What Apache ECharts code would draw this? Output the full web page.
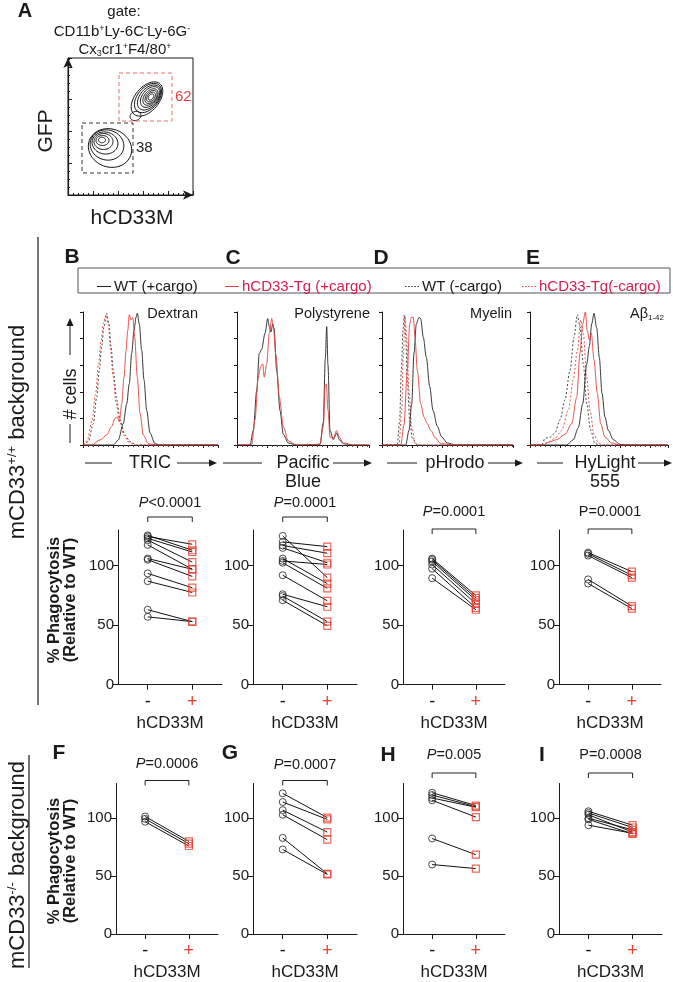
<!DOCTYPE html>
<html><head><meta charset="utf-8">
<script src="https://cdn.jsdelivr.net/npm/echarts@6/dist/echarts.min.js"></script>
<style>html,body{margin:0;padding:0;background:#fff}#c{width:673px;height:982px}</style>
</head><body><div id="c"></div><script>
// ---------------- DATA ----------------
const pairCats = ['', '', '-', '', '', '+', '', ''];
const yTickValues = [0, 50, 100];
const B_minus = [125.5, 124.5, 123, 121.5, 117.5, 106, 105, 93.5, 87, 63, 57];
const B_plus  = [113, 118, 111.5, 103, 97, 97, 91, 81.5, 77.5, 53, 53];
const C_minus = [125, 120, 117, 115, 106, 104, 102.5, 92, 76, 74.5, 71];
const C_plus  = [90, 116, 110.5, 102.5, 85, 101, 81, 70.5, 65.5, 53, 49.5];
const D_minus = [106, 105, 103.5, 101, 97.5, 89.5];
const D_plus  = [75, 73, 71, 68, 64.5, 63];
const E_minus = [111, 110, 108.5, 88.5, 85];
const E_plus  = [95, 92, 90, 66, 64];
const F_minus = [101.5, 99.5, 97];
const F_plus  = [80, 78, 76];
const G_minus = [121.5, 114, 107, 103, 83, 73];
const G_plus  = [100.5, 99, 88, 81.5, 52, 51.5];
const H_minus = [122, 120, 117.5, 115.5, 82.5, 60];
const H_plus  = [111, 110, 109.5, 101, 68.5, 56.5];
const I_minus = [106, 104.5, 103, 100, 99, 94];
const I_plus  = [94, 92, 88, 90, 86.5, 87];
const pTexts  = ['<0.0001', '=0.0001', '=0.0001', '=0.0001', '=0.0006', '=0.0007', '=0.005', '=0.0008'];
const pItalic = [true, true, true, false, true, true, true, false];

const histNames = ['WT (+cargo)', 'hCD33-Tg (+cargo)', 'WT (-cargo)', 'hCD33-Tg(-cargo)'];
const hB_wtPlus  = [[0,0],[30.3,0],[35.3,3.8],[40.3,16],[43.7,31],[46.3,46],[48.7,69],[51,86],[53,96],[54.3,99],[56.3,91],[58.7,71],[61,49],[63.7,26],[67,9],[72,1],[77,0],[135,0]];
const hB_tgPlus  = [[0,0],[8.7,0],[17,3.8],[23.7,7.5],[28.7,14],[32,20],[34.3,21],[36.3,17.5],[38.7,31],[41,51],[43,71],[44.7,86],[46.3,98],[48,94],[49.7,96],[51.7,81],[54.3,51],[57,24],[60.3,7.5],[65.3,1],[73.7,0],[135,0]];
const hB_wtMinus = [[0,0],[5.3,2.5],[10.3,16],[13.7,36],[16.3,56],[18.7,74],[21,89],[23.7,99],[26,91],[28,74],[30.3,56],[33.7,34],[37,19],[42,7.5],[47,2.5],[53.7,0],[135,0]];
const hB_tgMinus = [[0,0],[4,3],[9,18],[12.5,38],[15.5,60],[18,78],[20.5,92],[23,98],[25.5,90],[27.5,72],[30,52],[33,32],[36.5,18],[41,7],[46,2],[52,0],[135,0]];
const hC_wtPlus  = [[0,0],[13,0],[16.3,11],[19.7,41],[22.3,69],[24.7,72],[28,84],[30.7,95],[32.3,89],[34,85],[35.7,91],[37,88],[39.7,56],[43,26],[46.3,8],[51.3,1.5],[59.7,0],[83,0.5],[86.3,17],[88.3,65],[89.7,89],[91,60],[93,11],[96.3,4],[99.7,9],[102.3,4],[106.3,1],[116.3,0],[132,0]];
const hC_tgPlus  = [[0,0],[14.7,0.5],[18,19],[21.3,51],[23.7,59],[25.7,61],[27.3,51],[29.7,61],[32.3,84],[34.7,95],[36.3,89],[39,67],[42.3,36],[46.3,14],[51.3,3],[59.7,0],[83,0.5],[86.3,14],[88.3,45],[89.3,46],[91,26],[93,6],[96.3,5],[99.7,11],[102.3,6],[106.3,1.5],[116.3,0],[132,0]];
const hD_wtPlus  = [[0,0],[23.7,0],[27,11],[29.7,31],[32,69],[34.3,91],[37,96],[38.7,95],[41.3,81],[44.3,66],[47.7,44],[51,26],[55.3,14],[59.7,6],[65.3,1.5],[73.7,0],[131,0]];
const hD_tgPlus  = [[0,0],[18.7,0],[22,15],[25.3,56],[27.7,91],[29.3,96],[31.3,96],[33,81],[35.3,56],[38.7,31],[42,21],[45.3,16],[48.7,11],[53.7,5],[58.7,1],[73.7,0],[131,0]];
const hD_wtMinus = [[0,0],[15.3,0],[17.7,19],[19.3,56],[21,86],[22.3,98],[23.7,81],[25.3,49],[27.7,19],[30.3,5],[35.3,0],[131,0]];
const hD_tgMinus = [[0,0],[17,0],[19.7,26],[21.3,66],[23,97],[24.7,81],[27,41],[29.7,14],[33,1.5],[37,0],[131,0]];
const hE_wtPlus  = [[0,0],[36.7,0],[43.3,4],[48.3,13],[52.7,31],[56.7,61],[59.3,74],[61.7,91],[64,99],[66.7,88],[69.3,66],[72,39],[75,21],[78.3,11],[83.3,4],[90,0.5],[96.7,0],[138,0]];
const hE_tgPlus  = [[0,0],[13.3,0],[18.3,2],[26.7,4],[35,8],[41.7,16],[46.7,36],[50,69],[52.7,91],[55.3,100],[57.3,86],[59.3,79],[61.3,84],[64,64],[67.3,39],[70.7,16],[75,6],[81.7,1.5],[90,0],[138,0]];
const hE_wtMinus = [[0,0],[11.7,0],[15,5],[20,6],[25,9],[30,19],[35,34],[40,56],[44,81],[47.3,98],[50,89],[53.3,61],[56.7,31],[60.7,11],[65,1],[70,0],[138,0]];
const hE_tgMinus = [[0,0],[13.3,0],[18.3,2.5],[25,5],[31.7,11],[38.3,26],[43.3,49],[47.3,71],[50.7,94],[53.3,84],[56.7,51],[60,26],[64,8],[68.3,1.5],[73.3,0],[138,0]];

// contour levels for panel A: [cx, cy, semiMajor, semiMinor, angleDeg]
const contourTop = [[79,96,20,12,50],[80,97,17,10.5,50],[81,97.5,14.5,9,50],[82,98,12,7.5,50],[82.5,98,9.5,6,50],[83,98,7.5,4.8,50],[83,98,5.5,3.5,50],[83,98,3.5,2.2,50],[67.5,79,5.5,4.5,20]];
const contourBottom = [[42,47,22,19,-20],[39,50,17,15,-15],[37,52,13,11,-10],[35.5,53.5,9.5,8,0],[34.5,54.5,6.5,5,0],[34,55,3.5,2.8,0]];
const gateRed = [51, 74, 104, 122];
const gateBlack = [14, 22, 65, 72];
const gateLabels = ['62', '38'];

// ---------------- STYLE / LAYOUT ----------------
const FONT = '"Liberation Sans", Arial, Helvetica, sans-serif';
const BLACK = '#1a1a1a', RED = '#e8413c', LEGRED = '#d81e4e', SQ = '#e8402f';
const ICON_SOLID = 'path://M0,0L14,0L14,1L0,1Z';
const ICON_DOT = 'path://M0,0L1.5,0L1.5,1L0,1ZM3,0L4.5,0L4.5,1L3,1ZM6,0L7.5,0L7.5,1L6,1ZM9,0L10.5,0L10.5,1L9,1ZM12,0L13.5,0L13.5,1L12,1Z';

const grids = [], xAxes = [], yAxes = [], series = [], gfx = [];

function T(x, y, text, size, extra) {
  const st = Object.assign({text: text, fontFamily: FONT, fontSize: size, fill: BLACK, align: 'center', verticalAlign: 'middle'}, (extra && extra.style) || {});
  return Object.assign({type: 'text', x: x, y: y, silent: true, style: st}, (extra && extra.el) || {});
}
function L(x1, y1, x2, y2, w, color, dash) {
  return {type: 'line', silent: true, shape: {x1, y1, x2, y2}, style: {stroke: color || BLACK, lineWidth: w || 1, lineDash: dash || null}};
}
function arrowR(x, y) { return {type: 'polygon', silent: true, shape: {points: [[x - 8, y - 3.5], [x, y], [x - 8, y + 3.5]]}, style: {fill: BLACK}}; }
function arrowU(x, y) { return {type: 'polygon', silent: true, shape: {points: [[x - 3.5, y + 8], [x, y], [x + 3.5, y + 8]]}, style: {fill: BLACK}}; }

// ---------- Panel A ----------
grids.push({left: 68, top: 58, width: 125, height: 137, show: true, borderColor: BLACK, borderWidth: 1, backgroundColor: 'transparent'});
xAxes.push({gridIndex: 0, type: 'value', min: 0, max: 125, offset: 9, position: 'bottom',
  axisLine: {show: true, symbol: ['none', 'arrow'], symbolSize: [7, 10], lineStyle: {color: BLACK, width: 1.2}},
  axisTick: {show: false}, axisLabel: {show: false}, splitLine: {show: false}});
xAxes.push({gridIndex: 0, type: 'value', min: 0, max: 125, interval: 25, position: 'bottom',
  axisLine: {show: false}, axisTick: {show: true, inside: true, length: 4, lineStyle: {color: BLACK}},
  minorTick: {show: true, splitNumber: 5, length: 2, lineStyle: {color: BLACK}},
  axisLabel: {show: false}, splitLine: {show: false}});
yAxes.push({gridIndex: 0, type: 'value', min: 0, max: 137, offset: 7, position: 'left',
  axisLine: {show: true, symbol: ['none', 'arrow'], symbolSize: [7, 10], lineStyle: {color: BLACK, width: 1.2}},
  axisTick: {show: false}, axisLabel: {show: false}, splitLine: {show: false}});
yAxes.push({gridIndex: 0, type: 'value', min: 0, max: 137, interval: 32, position: 'left',
  axisLine: {show: false}, axisTick: {show: true, inside: true, length: 4, lineStyle: {color: BLACK}},
  minorTick: {show: true, splitNumber: 4, length: 2, lineStyle: {color: BLACK}},
  axisLabel: {show: false}, splitLine: {show: false}});
series.push({type: 'custom', xAxisIndex: 0, yAxisIndex: 0, silent: true, animation: false, clip: false,
  data: contourTop.concat(contourBottom),
  renderItem: function (params, api) {
    const cx = api.value(0), cy = api.value(1), a = api.value(2), b = api.value(3), ang = api.value(4) * Math.PI / 180;
    const pts = [];
    for (let k = 0; k < 48; k++) {
      const t = k / 48 * Math.PI * 2;
      const ex = a * Math.cos(t), ey = b * Math.sin(t);
      pts.push(api.coord([cx + ex * Math.cos(ang) - ey * Math.sin(ang), cy + ex * Math.sin(ang) + ey * Math.cos(ang)]));
    }
    return {type: 'polygon', shape: {points: pts}, style: {fill: null, stroke: '#111', lineWidth: 1}};
  }});
series.push({type: 'custom', xAxisIndex: 0, yAxisIndex: 0, silent: true, animation: false, clip: false,
  data: [gateRed.concat([0]), gateBlack.concat([1])],
  renderItem: function (params, api) {
    const p0 = api.coord([api.value(0), api.value(3)]), p1 = api.coord([api.value(2), api.value(1)]);
    const isRed = api.value(4) === 0;
    return {type: 'group', children: [
      {type: 'rect', shape: {x: p0[0], y: p0[1], width: p1[0] - p0[0], height: p1[1] - p0[1]},
        style: {fill: null, stroke: isRed ? '#f06a6a' : '#333', lineWidth: 1, lineDash: [4, 3]}},
      {type: 'text', x: p1[0] + 3, y: (p0[1] + p1[1]) / 2,
        style: {text: gateLabels[params.dataIndex], fontFamily: FONT, fontSize: 15, fill: isRed ? RED : '#222', align: 'left', verticalAlign: 'middle'}}
    ]};
  }});

gfx.push(T(25, 11, 'A', 20, {style: {fontWeight: 'bold'}}));
gfx.push(T(124, 12, 'gate:', 15));
gfx.push(T(122, 32, 'CD11b{s|+}Ly-6C{s|-}Ly-6G{s|-}', 15, {style: {rich: {s: {fontSize: 9, verticalAlign: 'top', fontFamily: FONT, fill: BLACK, lineHeight: 16}}}}));
gfx.push(T(125, 50, 'Cx{d|3}cr1{s|+}F4/80{s|+}', 15, {style: {rich: {s: {fontSize: 9, verticalAlign: 'top', fontFamily: FONT, fill: BLACK, lineHeight: 16}, d: {fontSize: 9, verticalAlign: 'bottom', fontFamily: FONT, fill: BLACK, lineHeight: 14}}}}));
gfx.push(T(46, 131, 'GFP', 21, {el: {rotation: Math.PI / 2}}));
gfx.push(T(132, 218, 'hCD33M', 21));

// ---------- Histograms ----------
const histLayout = [
  {left: 83, width: 135, curves: [hB_wtPlus, hB_tgPlus, hB_wtMinus, hB_tgMinus], title: 'Dextran', tx: 198},
  {left: 237, width: 132, curves: [hC_wtPlus, hC_tgPlus, null, null], title: 'Polystyrene', tx: 370},
  {left: 382, width: 131, curves: [hD_wtPlus, hD_tgPlus, hD_wtMinus, hD_tgMinus], title: 'Myelin', tx: 512},
  {left: 530, width: 138, curves: [hE_wtPlus, hE_tgPlus, hE_wtMinus, hE_tgMinus], title: 'Aβ{d|1-42}', tx: 664}
];
const curveStyles = [
  {color: '#222', type: 'solid'}, {color: RED, type: 'solid'},
  {color: '#333', type: [2, 2]}, {color: RED, type: [2, 2]}
];
histLayout.forEach(function (h) {
  const gi = grids.length;
  grids.push({left: h.left, top: 312, width: h.width, height: 133});
  const xi = xAxes.length, yi = yAxes.length;
  xAxes.push({gridIndex: gi, type: 'value', min: 0, max: h.width, interval: 30,
    axisLine: {show: true, lineStyle: {color: BLACK, width: 1}},
    axisTick: {show: true, length: 3, lineStyle: {color: BLACK}},
    minorTick: {show: true, splitNumber: 6, length: 2, lineStyle: {color: '#444'}},
    axisLabel: {show: false}, splitLine: {show: false}});
  yAxes.push({gridIndex: gi, type: 'value', min: 0, max: 100, interval: 20,
    axisLine: {show: true, lineStyle: {color: BLACK, width: 1}},
    axisTick: {show: true, length: 3, lineStyle: {color: BLACK}},
    axisLabel: {show: false}, splitLine: {show: false}});
  h.curves.forEach(function (c, k) {
    if (!c) return;
    series.push({type: 'line', name: histNames[k], xAxisIndex: xi, yAxisIndex: yi, data: c,
      smooth: 0.3, smoothMonotone: 'x', symbol: 'none', silent: true, animation: false, z: k < 2 ? 3 : 2,
      itemStyle: {color: curveStyles[k].color},
      lineStyle: {color: curveStyles[k].color, width: 0.9, type: curveStyles[k].type}});
  });
  gfx.push(T(h.tx, 314, h.title, 14.5, {style: {align: 'right', rich: {d: {fontSize: 8, verticalAlign: 'bottom', fontFamily: FONT, fill: BLACK, lineHeight: 15}}}}));
});

// legend box
gfx.push({type: 'rect', silent: true, shape: {x: 78, y: 268, width: 592, height: 25}, style: {fill: null, stroke: '#555', lineWidth: 1}});
gfx.push(T(72, 257, 'B', 21, {style: {fontWeight: 'bold'}}));
gfx.push(T(233, 258, 'C', 21, {style: {fontWeight: 'bold'}}));
gfx.push(T(381, 258, 'D', 21, {style: {fontWeight: 'bold'}}));
gfx.push(T(533, 258, 'E', 21, {style: {fontWeight: 'bold'}}));

// # cells
gfx.push(T(71, 394, '# cells', 18, {el: {rotation: Math.PI / 2}}));
gfx.push(L(70, 355, 70, 322, 1));
gfx.push(arrowU(70, 318));
gfx.push(L(70, 424, 70, 443, 1));

// histogram x-axis names
const histAxisRows = [
  {l1: 85, l2: 112, text: 'TRIC', cx: 150, a1: 177, a2: 217, sub: null},
  {l1: 223, l2: 262, text: 'Pacific', cx: 303, a1: 333, a2: 372, sub: 'Blue'},
  {l1: 387, l2: 417, text: 'pHrodo', cx: 455, a1: 488, a2: 523, sub: null},
  {l1: 537, l2: 563, text: 'HyLight', cx: 605, a1: 638, a2: 672, sub: '555'}
];
histAxisRows.forEach(function (r) {
  gfx.push(L(r.l1, 463, r.l2, 463, 1));
  gfx.push(T(r.cx, 463, r.text, 18));
  gfx.push(L(r.a1, 463, r.a2 - 6, 463, 1));
  gfx.push(arrowR(r.a2, 463));
  if (r.sub) gfx.push(T(r.cx, 482, r.sub, 18));
});

// ---------- Paired plots ----------
const pairedLayout = [
  {minus: B_minus, plus: B_plus, left: 118, top: 530, width: 104, bOff: 13, tOff: 14},
  {minus: C_minus, plus: C_plus, left: 253, top: 530, width: 104, bOff: 13, tOff: 14},
  {minus: D_minus, plus: D_plus, left: 403, top: 530, width: 102, bOff: 1, tOff: 17},
  {minus: E_minus, plus: E_plus, left: 559, top: 530, width: 102, bOff: 1, tOff: 17},
  {minus: F_minus, plus: F_plus, left: 116, top: 783.5, width: 102, bOff: 3, tOff: 17},
  {minus: G_minus, plus: G_plus, left: 253, top: 783.5, width: 104, bOff: 3, tOff: 16},
  {minus: H_minus, plus: H_plus, left: 403, top: 783.5, width: 102, bOff: 10.5, tOff: 18},
  {minus: I_minus, plus: I_plus, left: 559, top: 783.5, width: 103, bOff: 10.5, tOff: 18}
];
pairedLayout.forEach(function (p, idx) {
  const gi = grids.length;
  grids.push({left: p.left, top: p.top, width: p.width, height: 154.7});
  const xi = xAxes.length, yi = yAxes.length;
  const showIdx = function (i) { return i === 2 || i === 5; };
  xAxes.push({gridIndex: gi, type: 'category', data: pairCats, boundaryGap: false,
    axisLine: {show: true, lineStyle: {color: BLACK, width: 1}},
    axisTick: {show: true, length: 5, interval: showIdx, lineStyle: {color: BLACK}},
    axisLabel: {show: true, interval: showIdx, margin: 8, fontSize: 18, fontFamily: FONT,
      color: function (v) { return v === '+' ? SQ : BLACK; }},
    name: 'hCD33M', nameLocation: 'middle', nameGap: 30,
    nameTextStyle: {fontSize: 17, fontFamily: FONT, color: BLACK},
    splitLine: {show: false}});
  yAxes.push({gridIndex: gi, type: 'value', min: 0, max: 130, interval: 50,
    axisLine: {show: true, lineStyle: {color: BLACK, width: 1}},
    axisTick: {show: true, length: 5, customValues: yTickValues, lineStyle: {color: BLACK}},
    axisLabel: {fontSize: 15, fontFamily: FONT, color: BLACK, margin: 4, customValues: yTickValues},
    splitLine: {show: false}});
  p.minus.forEach(function (v, i) {
    series.push({type: 'line', xAxisIndex: xi, yAxisIndex: yi, data: [[2, v], [5, p.plus[i]]],
      symbol: 'none', silent: true, animation: false, z: 2,
      lineStyle: {color: '#111', width: 1}});
  });
  series.push({type: 'scatter', xAxisIndex: xi, yAxisIndex: yi, data: p.minus.map(function (v) { return [2, v]; }),
    symbol: 'circle', symbolSize: 7, silent: true, animation: false, z: 3,
    itemStyle: {color: 'rgba(255,255,255,0)', borderColor: '#222', borderWidth: 1}});
  series.push({type: 'scatter', xAxisIndex: xi, yAxisIndex: yi, data: p.plus.map(function (v) { return [5, v]; }),
    symbol: 'rect', symbolSize: 7, silent: true, animation: false, z: 3,
    itemStyle: {color: 'rgba(255,255,255,0)', borderColor: SQ, borderWidth: 1.2}});
  const label = (pItalic[idx] ? '{i|P}' : 'P') + pTexts[idx];
  series.push({type: 'custom', xAxisIndex: xi, yAxisIndex: yi, data: [[2, 5]], silent: true, animation: false, clip: false,
    renderItem: function (params, api) {
      const a = api.coord([2, 130]), b = api.coord([5, 130]);
      const y = a[1] - p.bOff;
      return {type: 'group', children: [
        {type: 'polyline', shape: {points: [[a[0], y + 5], [a[0], y], [b[0], y], [b[0], y + 5]]}, style: {fill: null, stroke: '#222', lineWidth: 1}},
        {type: 'text', x: (a[0] + b[0]) / 2, y: y - p.tOff,
          style: {text: label, fontFamily: FONT, fontSize: 14.5, fill: BLACK, align: 'center', verticalAlign: 'middle',
            rich: {i: {fontStyle: 'italic', fontFamily: FONT, fontSize: 14.5, fill: BLACK}}}}
      ]};
    }});
});

gfx.push(T(59, 753, 'F', 21, {style: {fontWeight: 'bold'}}));
gfx.push(T(230, 753, 'G', 21, {style: {fontWeight: 'bold'}}));
gfx.push(T(388, 755, 'H', 21, {style: {fontWeight: 'bold'}}));
gfx.push(T(542, 755, 'I', 21, {style: {fontWeight: 'bold'}}));

// Y titles
[600, 861].forEach(function (cy) {
  gfx.push(T(54, cy, '% Phagocytosis', 16.5, {style: {fontWeight: 'bold'}, el: {rotation: Math.PI / 2}}));
  gfx.push(T(70, cy, '(Relative to WT)', 16.5, {style: {fontWeight: 'bold'}, el: {rotation: Math.PI / 2}}));
});

// background labels
const supRich = {s: {fontSize: 13, verticalAlign: 'top', fontFamily: FONT, fill: BLACK, lineHeight: 24}};
gfx.push(T(18, 432, 'mCD33{s|+/+} background', 22, {style: {rich: supRich}, el: {rotation: Math.PI / 2}}));
gfx.push(T(18, 865, 'mCD33{s|-/-} background', 22, {style: {rich: supRich}, el: {rotation: Math.PI / 2}}));
gfx.push(L(38, 237, 38, 705, 1.2));
gfx.push(L(29, 755, 29, 968, 1.2));

function legendAt(left, k, icon, color) {
  return {left: left, top: 274, itemWidth: 14, itemHeight: 1.2, itemGap: 4, selectedMode: false,
    textStyle: {fontSize: 15, fontFamily: FONT, color: color, padding: [0, 0, 0, -2]},
    data: [{name: histNames[k], icon: icon}]};
}
const chart = echarts.init(document.getElementById('c'), null, {renderer: 'canvas'});
chart.setOption({
  animation: false,
  backgroundColor: '#fff',
  textStyle: {fontFamily: FONT},
  grid: grids, xAxis: xAxes, yAxis: yAxes, series: series,
  legend: [legendAt(92, 0, ICON_SOLID, BLACK), legendAt(220, 1, ICON_SOLID, LEGRED),
           legendAt(400, 2, ICON_DOT, BLACK), legendAt(517, 3, ICON_DOT, LEGRED)],
  graphic: {elements: gfx}
});
</script></body></html>
